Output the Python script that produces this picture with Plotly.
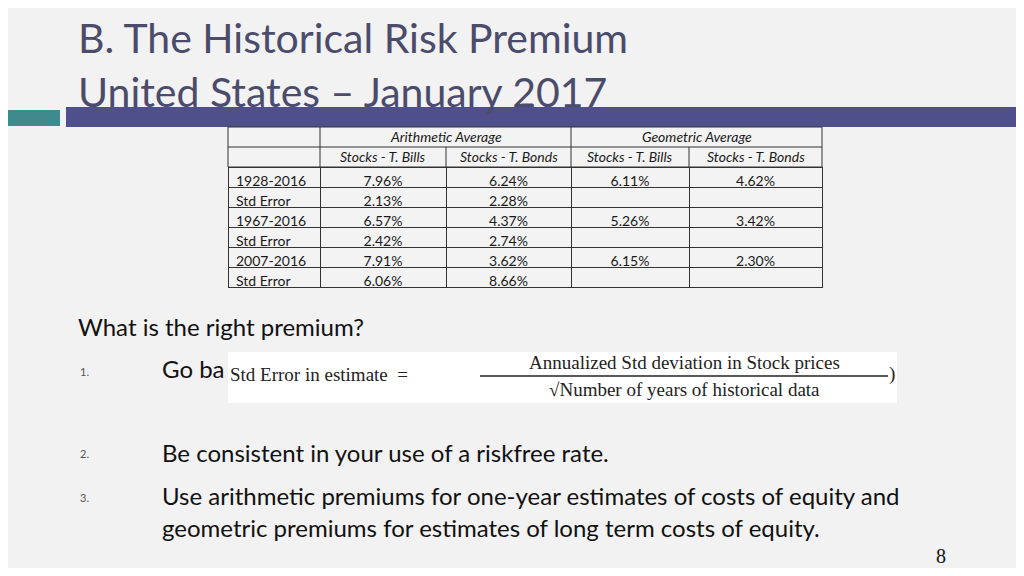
import plotly.graph_objects as go

# ---- data ----
row_labels = ['1928-2016', 'Std Error', '1967-2016', 'Std Error', '2007-2016', 'Std Error']
arith_bills = ['7.96%', '2.13%', '6.57%', '2.42%', '7.91%', '6.06%']
arith_bonds = ['6.24%', '2.28%', '4.37%', '2.74%', '3.62%', '8.66%']
geo_bills = ['6.11%', '', '5.26%', '', '6.15%', '']
geo_bonds = ['4.62%', '', '3.42%', '', '2.30%', '']
group_headers = ['Arithmetic Average', 'Geometric Average']
sub_headers = ['Stocks - T. Bills', 'Stocks - T. Bonds', 'Stocks - T. Bills', 'Stocks - T. Bonds']

# page body has an 8px margin, so the figure is a bit smaller and shifted
OFF = 8
W, H = 1024 - 2 * OFF, 576 - 2 * OFF
def px(x): return (x - OFF) / W
def py(y): return 1 - (y - OFF) / H

col_edges = [228, 320, 446, 571, 689, 822]
TXT = '#1a1a1a'
FONT = 'Lato, sans-serif'
LINE = dict(color='#333', width=1)

fig = go.Figure()
fig.add_trace(go.Table(
    domain=dict(x=[px(228), px(822)], y=[py(310), py(167)]),
    columnwidth=[col_edges[i + 1] - col_edges[i] for i in range(5)],
    header=dict(values=['', '', '', '', ''], height=0, fill_color='rgba(0,0,0,0)',
                line=dict(width=0), font=dict(size=1)),
    cells=dict(values=[row_labels, arith_bills, arith_bonds, geo_bills, geo_bonds],
               height=20, fill_color='#f3f3f3', line=LINE,
               font=dict(family=FONT, size=14, color=TXT),
               align=['left', 'center', 'center', 'center', 'center']),
))

shapes = [
    # title band
    dict(type='rect', x0=0, x1=px(60), y0=py(126), y1=py(110), fillcolor='#3e8a8c', line_width=0),
    dict(type='rect', x0=px(66), x1=1, y0=py(127), y1=py(107), fillcolor='#4f4f8c', line_width=0),
    # two header rows of the table (first one has merged cells)
    dict(type='rect', x0=px(228), x1=px(822), y0=py(167), y1=py(127), fillcolor='#f3f3f3', line=LINE),
    dict(type='line', x0=px(228), x1=px(822), y0=py(147), y1=py(147), line=LINE),
    # formula box
    dict(type='rect', x0=px(228), x1=px(897), y0=py(403), y1=py(352), fillcolor='white', line_width=0),
    dict(type='line', x0=px(480), x1=px(888), y0=py(376), y1=py(376), line=dict(color='#222', width=1.5)),
]
for xe in col_edges[1:-1]:
    y_top = 127 if xe in (320, 571) else 147
    shapes.append(dict(type='line', x0=px(xe), x1=px(xe), y0=py(167), y1=py(y_top), line=LINE))

ann = []
def text(x, y, s, size, color='#111', family='Lato, sans-serif', xanchor='left'):
    ann.append(dict(x=px(x), y=py(y), text=s, showarrow=False, xanchor=xanchor, yanchor='middle',
                    font=dict(size=size, color=color, family=family)))

text(76, 37, 'B. The Historical Risk Premium', 41, '#4b4b6b')
text(76, 91, 'United States \u2013 January 2017', 41, '#4b4b6b')
text((320 + 571) / 2, 137, '<i>%s</i>' % group_headers[0], 14, TXT, FONT, 'center')
text((571 + 822) / 2, 137, '<i>%s</i>' % group_headers[1], 14, TXT, FONT, 'center')
for i, s in enumerate(sub_headers):
    text((col_edges[i + 1] + col_edges[i + 2]) / 2, 157, '<i>%s</i>' % s, 14, TXT, FONT, 'center')
text(76, 326, 'What is the right premium?', 24)
text(78, 371, '1.', 11, '#555')
text(160, 368, 'Go ba', 24)
serif = 'Liberation Serif, serif'
text(228, 374, 'Std Error in estimate  =', 19, '#222', serif)
text(684, 362, 'Annualized Std deviation in Stock prices', 19, '#222', serif, 'center')
text(684, 389, '\u221aNumber of years of historical data', 19, '#222', serif, 'center')
text(887, 374, ')', 19, '#222', serif)
text(78, 454, '2.', 11, '#555')
text(160, 452, 'Be consistent in your use of a riskfree rate.', 24)
text(78, 497, '3.', 11, '#555')
text(160, 495, 'Use arithmetic premiums for one-year estimates of costs of equity and', 24)
text(160, 527, 'geometric premiums for estimates of long term costs of equity.', 24)
text(948, 556, '8', 20, '#111', serif, 'right')

fig.update_layout(width=W, height=H, margin=dict(l=0, r=0, t=0, b=0),
                  paper_bgcolor='#f2f2f2', plot_bgcolor='#f2f2f2',
                  xaxis=dict(visible=False), yaxis=dict(visible=False),
                  shapes=shapes, annotations=ann, showlegend=False)
fig.write_html('out.html')
